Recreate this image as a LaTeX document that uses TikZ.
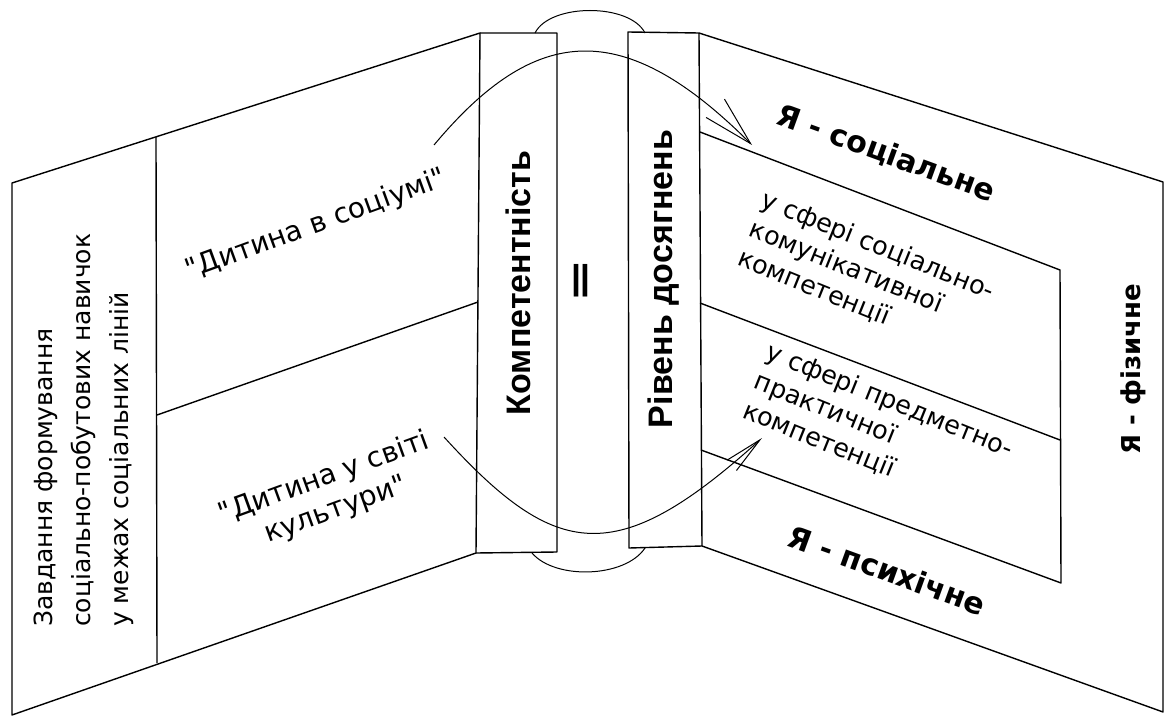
\documentclass[tikz,border=0pt]{standalone}
\usepackage{fontspec}
\setmainfont{DejaVu Sans}[Ligatures=TeXOff]
\newfontfamily\arialfont{Liberation Sans}
\usetikzlibrary{arrows.meta}

\tikzset{
	panel/.style={draw, line width=1.4pt, line join=round},
	arc/.style={line width=1pt},
	txt/.style={inner sep=0pt, font=\fontsize{25}{38}\selectfont},
	txtl/.style={inner sep=0pt, font=\fontsize{28}{34}\selectfont},
	txtr/.style={inner sep=0pt, font=\fontsize{25.5}{31.5}\selectfont, align=left},
	spine/.style={inner sep=0pt, font=\arialfont\bfseries\fontsize{34}{38}\selectfont},
	ya/.style={inner sep=0pt, font=\bfseries\fontsize{30}{34}\selectfont},
}

\begin{document}
\begin{tikzpicture}[x=1pt,y=-1pt]
	\useasboundingbox (0,0) rectangle (1165,717);
	
	% left page
	\coordinate (lt) at (12,183);
	\coordinate (lb) at (12,715);
	\coordinate (dt) at (156,137);
	\coordinate (db) at (157,663);
	\coordinate (dm) at (157,415);
	\coordinate (km) at (478,302);
	\coordinate (ktl) at (480,33);
	\coordinate (ktr) at (557,33);
	\coordinate (kbr) at (557,552);
	\coordinate (kbl) at (476,553);
	
	% right page
	\coordinate (rtl) at (628,32);
	\coordinate (rtr) at (699,33);
	\coordinate (rbr) at (702,546);
	\coordinate (rbl) at (629,548);
	\coordinate (otr) at (1163,182);
	\coordinate (obr) at (1163,712);
	\coordinate (it) at (700,132);
	\coordinate (im) at (700,303);
	\coordinate (ib) at (701,450);
	\coordinate (itr) at (1060,270);
	\coordinate (imr) at (1060,440);
	\coordinate (ibr) at (1061,583);
	
	\draw[panel] (lt) -- (ktl) -- (kbl) -- (lb) -- cycle;
	\draw[panel] (dt) -- (db);
	\draw[panel] (dm) -- (km);
	\draw[panel] (ktl) -- (ktr) -- (kbr) -- (kbl);
	
	\draw[panel] (rtl) -- (rtr) -- (rbr) -- (rbl) -- cycle;
	\draw[panel] (rtr) -- (otr) -- (obr) -- (rbr);
	\draw[panel] (it) -- (itr) -- (ibr) -- (ib);
	\draw[panel] (im) -- (imr);
	
	% texts
	\node[txt, rotate=90, anchor=west, align=left] (task) at (84,627)
		{Завдання формування\\соціально-побутових навичок\\у межах соціальних ліній};
	\node[txtl, rotate=20] (socium) at (316,225) {"Дитина в соціумі"};
	\node[txtl, rotate=20, align=center] (kult) at (330,494) {"Дитина у світі\\культури"};
	
	\node[spine, rotate=90] (komp) at (518,283) {Компетентність};
	\node[spine, rotate=90, font=\bfseries\fontsize{40}{40}\selectfont] (eq) at (584,281) {\scalebox{1.3}[1]{=}};
	\node[spine, rotate=90] (riven) at (664,279) {Рівень досягнень};
	
	\node[ya, rotate=-20] (ysoc) at (886,154) {Я - соціальне};
	\node[txtr, rotate=-22] (sfk) at (866,275) {у сфері соціально-\\комунікативної\\компетенції};
	\node[txtr, rotate=-22] (sfp) at (878,430) {у сфері предметно-\\практичної\\компетенції};
	\node[ya, rotate=-20] (ypsy) at (887,570) {Я - психічне};
	\node[spine, rotate=90, font=\bfseries\fontsize{26}{30}\selectfont] (yfiz) at (1133,369) {Я - фізичне};
	
	% arcs over and under the spine
	\coordinate (tl) at (535,33);
	\coordinate (tr) at (645,33);
	\coordinate (bl) at (532,553);
	\coordinate (br) at (645,548);
	\draw[arc] (tl) .. controls (550,3) and (630,3) .. (tr);
	\draw[arc] (bl) .. controls (555,580) and (625,578) .. (br);
	
	\coordinate (s1) at (434,145);
	\coordinate (e1) at (752,145);
	\coordinate (s2) at (444,437);
	\coordinate (e2) at (762,438);
	\draw[arc, -{Straight Barb[length=50pt,width=26pt]}] (s1) .. controls (536,23) and (624,17) .. (e1);
	\draw[arc, -{Straight Barb[length=38pt,width=14pt]}] (s2) .. controls (556,560) and (616,570) .. (e2);
\end{tikzpicture}
\end{document}
